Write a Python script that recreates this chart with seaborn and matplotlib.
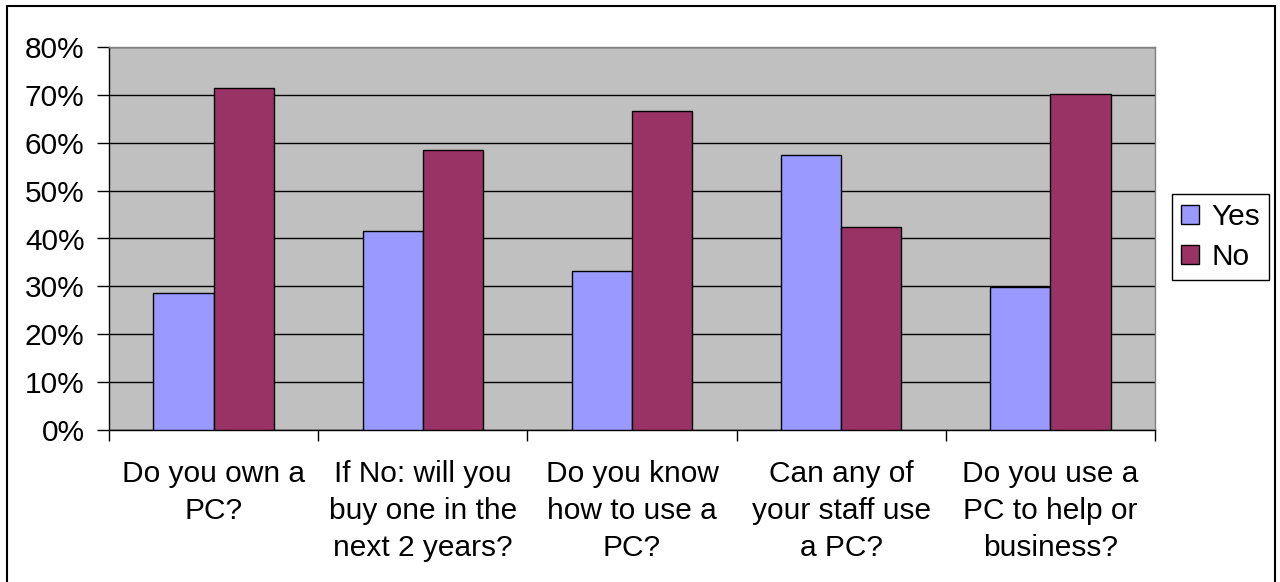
import matplotlib
matplotlib.use("Agg")
import matplotlib.pyplot as plt
from matplotlib.patches import Rectangle
from matplotlib.ticker import PercentFormatter, FixedLocator
import seaborn as sns
import pandas as pd

# Survey questions and the share of respondents answering each way (%)
questions = [
    "Do you own a\nPC?",
    "If No: will you\nbuy one in the\nnext 2 years?",
    "Do you know\nhow to use a\nPC?",
    "Can any of\nyour staff use\na PC?",
    "Do you use a\nPC to help or\nbusiness?",
]
yes_pct = [28.6, 41.6, 33.3, 57.5, 29.9]
no_pct = [71.4, 58.4, 66.7, 42.5, 70.1]
answers = ["Yes", "No"]
colors = {"Yes": "#9999FF", "No": "#993366"}
y_ticks = [0, 10, 20, 30, 40, 50, 60, 70, 80]

df = pd.DataFrame({
    "question": questions * 2,
    "answer": ["Yes"] * len(questions) + ["No"] * len(questions),
    "pct": yes_pct + no_pct,
})

sns.set_theme(style="white")
plt.rcParams["font.family"] = ["Liberation Sans", "DejaVu Sans"]
plt.rcParams["text.color"] = "black"
plt.rcParams["xtick.color"] = "black"
plt.rcParams["ytick.color"] = "black"
plt.rcParams["xtick.labelcolor"] = "black"
plt.rcParams["ytick.labelcolor"] = "black"
FS = 21.5

W, H = 1280, 582
fig = plt.figure(figsize=(W / 100, H / 100), dpi=100)
ax = fig.add_axes([109 / W, (H - 430) / H, 1046 / W, 383 / H])
ax.set_facecolor("#C0C0C0")

sns.barplot(
    data=df, x="question", y="pct", hue="answer", hue_order=answers,
    order=questions, palette=colors, saturation=1, width=0.575,
    edgecolor="black", linewidth=1, ax=ax, zorder=3,
)

ax.set_xlim(-0.5, len(questions) - 0.5)
ax.set_ylim(0, 80)
ax.set_yticks(y_ticks)
ax.yaxis.set_major_formatter(PercentFormatter(decimals=0))
ax.grid(axis="y", color="black", linewidth=1, zorder=1)
ax.grid(axis="x", visible=False)
ax.set_axisbelow(True)

ax.tick_params(axis="y", direction="out", length=9, width=1, color="black",
               labelsize=FS, pad=8.5, left=True, labelcolor="black")
ax.tick_params(axis="x", which="major", length=0, labelsize=FS, pad=21.5,
               labelcolor="black")
ax.xaxis.set_minor_locator(FixedLocator([i - 0.5 for i in range(len(questions) + 1)]))
ax.tick_params(axis="x", which="minor", direction="out", length=8, width=1,
               color="black", bottom=True)
for lbl in ax.get_xticklabels():
    lbl.set_linespacing(1.41)
    lbl.set_ha("center")
ax.set_xlabel("")
ax.set_ylabel("")

for side in ["left", "bottom"]:
    ax.spines[side].set_color("black")
    ax.spines[side].set_linewidth(1)
for side in ["top", "right"]:
    ax.spines[side].set_color("#808080")
    ax.spines[side].set_linewidth(1)

handles, labels = ax.get_legend_handles_labels()
ax.legend(
    handles, labels, loc="center left",
    bbox_to_anchor=(1172 / W, 1 - 237 / H), bbox_transform=fig.transFigure,
    fontsize=FS, frameon=True, fancybox=False, edgecolor="black",
    framealpha=1, handlelength=0.62, handleheight=0.62, handletextpad=0.4,
    borderpad=0.3, labelspacing=0.42, borderaxespad=0,
)
ax.get_legend().get_frame().set_linewidth(1)

# outer frame around the whole chart
fig.add_artist(Rectangle((7 / W, -0.05), (1275 - 7) / W, 1.05 - 6 / H,
                         transform=fig.transFigure, fill=False,
                         edgecolor="black", linewidth=1.5))

fig.savefig("out.png", dpi=100)
